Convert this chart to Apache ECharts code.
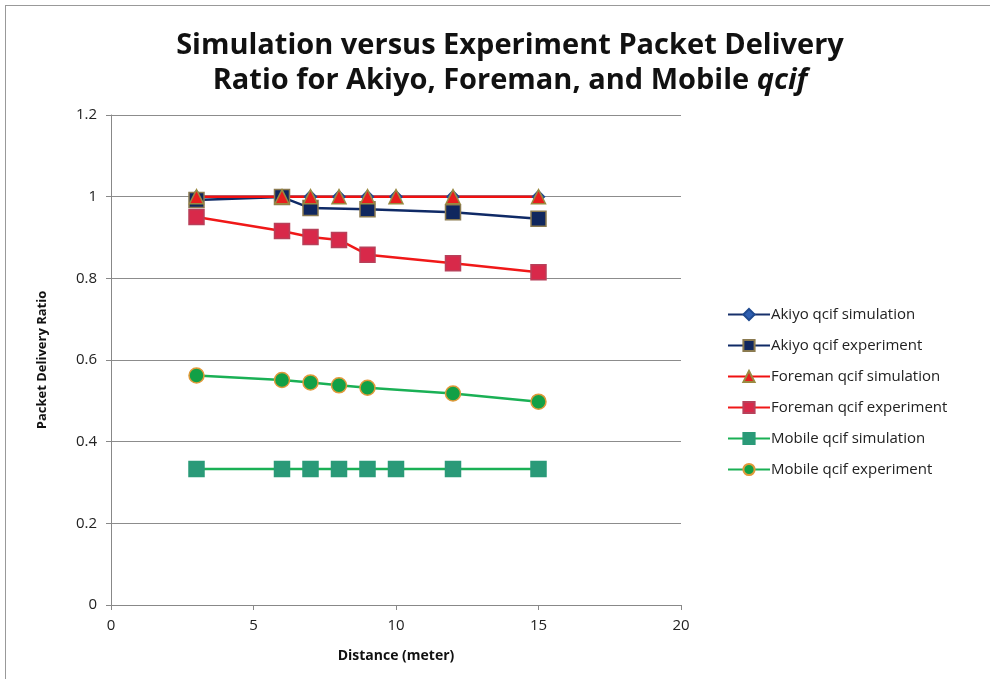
<!DOCTYPE html>
<html>
<head>
<meta charset="utf-8">
<script src="https://cdn.jsdelivr.net/npm/echarts@6/dist/echarts.min.js"></script>
<style>
html, body { margin: 0; padding: 0; background: #fff; }
#frame { position: absolute; left: 5px; top: 5px; width: 990px; height: 679px; border-left: 1px solid #999; border-top: 1px solid #999; box-sizing: border-box; }
#chart { position: absolute; left: 0; top: 0; width: 990px; height: 679px; }
</style>
</head>
<body>
<div id="frame"></div>
<div id="chart"></div>
<script>
const distances = [3, 6, 7, 8, 9, 10, 12, 15]
const akiyoSimX = [3, 6, 7, 8, 9, 10, 12, 15]
const akiyoSim = [1, 1, 1, 1, 1, 1, 1, 1]
const akiyoExpX = [3, 6, 7, 9, 12, 15]
const akiyoExp = [0.992, 0.999, 0.972, 0.969, 0.962, 0.946]
const foremanSim = [1, 1, 1, 1, 1, 1, 1, 1]
const foremanExpX = [3, 6, 7, 8, 9, 12, 15]
const foremanExp = [0.950, 0.916, 0.901, 0.894, 0.858, 0.837, 0.815]
const mobileSim = [0.333, 0.333, 0.333, 0.333, 0.333, 0.333, 0.333, 0.333]
const mobileExpX = [3, 6, 7, 8, 9, 12, 15]
const mobileExp = [0.562, 0.551, 0.545, 0.538, 0.532, 0.518, 0.498]
const seriesNames = [
  'Akiyo qcif simulation',
  'Akiyo qcif experiment',
  'Foreman qcif simulation',
  'Foreman qcif experiment',
  'Mobile qcif simulation',
  'Mobile qcif experiment'
]

function pairs(xs, ys) {
  return xs.map((x, i) => [x, ys[i]])
}

function makeSeries(name, data, lineColor, symbol, fill, border, size) {
  return {
    name: name,
    type: 'line',
    data: data,
    symbol: symbol,
    symbolSize: size,
    animation: false,
    lineStyle: { color: lineColor, width: 2.5 },
    itemStyle: { color: fill, borderColor: border, borderWidth: 1.5 }
  }
}

const titleFont = { fontFamily: 'Open Sans', fontWeight: 'bold', fontSize: 29, lineHeight: 35, color: '#111' }

const chart = echarts.init(document.getElementById('chart'))
const option = {
  backgroundColor: 'transparent',
  title: {
    text: '{b|Simulation versus Experiment Packet Delivery}\n{b|Ratio for Akiyo, Foreman, and Mobile }{i|qcif}',
    left: 505,
    top: 23,
    textAlign: 'center',
    textStyle: {
      ...titleFont,
      rich: {
        b: { ...titleFont },
        i: { ...titleFont, fontStyle: 'italic' }
      }
    }
  },
  grid: { left: 111, right: 309, top: 115, bottom: 74 },
  legend: {
    orient: 'vertical',
    left: 722,
    top: 302,
    itemWidth: 42,
    itemHeight: 14,
    itemGap: 16,
    textStyle: { fontFamily: 'Open Sans', fontSize: 15, color: '#222', padding: [0, 0, 0, -4] },
    data: seriesNames
  },
  xAxis: {
    type: 'value',
    min: 0,
    max: 20,
    interval: 5,
    name: 'Distance (meter)',
    nameLocation: 'middle',
    nameGap: 44,
    nameTextStyle: { fontFamily: 'Open Sans', fontWeight: 'bold', fontSize: 14, color: '#111' },
    axisLine: { lineStyle: { color: '#888' } },
    axisTick: { show: true, length: 5, lineStyle: { color: '#888' } },
    axisLabel: { fontFamily: 'Open Sans', fontSize: 15, color: '#222', margin: 13 },
    splitLine: { show: false }
  },
  yAxis: {
    type: 'value',
    min: 0,
    max: 1.2,
    interval: 0.2,
    name: 'Packet Delivery Ratio',
    nameLocation: 'middle',
    nameGap: 62,
    nameTextStyle: { fontFamily: 'Open Sans', fontWeight: 'bold', fontSize: 13, color: '#111' },
    axisLine: { show: true, lineStyle: { color: '#888' } },
    axisTick: { show: true, length: 5, lineStyle: { color: '#888' } },
    axisLabel: { fontFamily: 'Open Sans', fontSize: 15, color: '#222', margin: 14 },
    splitLine: { lineStyle: { color: '#8c8c8c', width: 1 } }
  },
  series: [
    makeSeries(seriesNames[0], pairs(akiyoSimX, akiyoSim), '#17306b', 'diamond', '#2f5fb0', '#1f4a90', 12),
    makeSeries(seriesNames[1], pairs(akiyoExpX, akiyoExp), '#0f2a66', 'rect', '#10275e', '#8a7a50', 15),
    makeSeries(seriesNames[2], pairs(distances, foremanSim), '#f01010', 'triangle', '#e81e1e', '#9a8a40', 14),
    makeSeries(seriesNames[3], pairs(foremanExpX, foremanExp), '#f01818', 'rect', '#d8294a', '#b8405a', 15),
    makeSeries(seriesNames[4], pairs(distances, mobileSim), '#1ab055', 'rect', '#2a9a78', '#2a9a78', 15),
    makeSeries(seriesNames[5], pairs(mobileExpX, mobileExp), '#1ab055', 'circle', '#12a046', '#e09a3a', 15)
  ]
}
chart.setOption(option)
</script>
</body>
</html>
